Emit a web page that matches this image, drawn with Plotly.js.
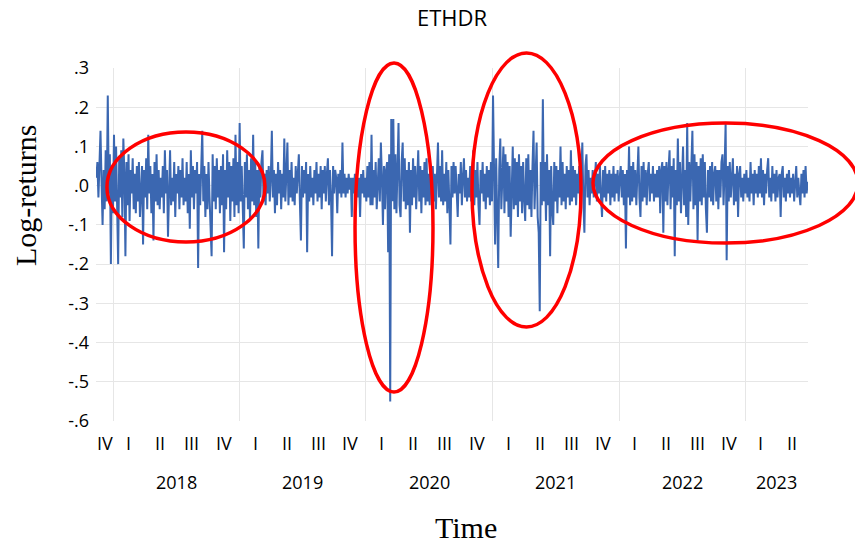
<!DOCTYPE html>
<html>
<head>
<meta charset="utf-8">
<script src="https://cdn.plot.ly/plotly-3.0.1.min.js"></script>
<style>html,body{margin:0;padding:0;background:#fff;}#chart{width:855px;height:548px;}</style>
</head>
<body>
<div id="chart"></div>
<script>
const START_DATE = '2017-11-13';
const STEP_DAYS = 3;
const LOG_RETURNS = [
 .02,.06,-.03,.05,.14,.01,-.10,.04,-.06,.09,-.04,.23,-.02,.08,-.20,.05,-.07,.13,-.04,.10,
 -.05,-.20,.07,-.03,.09,-.08,.12,.03,-.18,.06,-.05,.08,-.09,.04,-.02,.07,-.06,.03,-.07,.05,
 -.04,.06,-.08,.02,.05,-.15,.04,-.03,.07,-.06,.13,-.02,.05,-.07,.03,-.14,.06,-.04,.08,-.05,
 .04,-.06,.02,-.03,.05,-.07,.09,-.02,.04,-.13,.03,.09,-.05,.02,-.04,.06,-.08,.03,-.02,.05,
 -.06,.04,-.03,.07,-.05,.02,-.04,.06,-.07,.03,-.11,.09,-.03,.05,-.06,.04,-.02,.06,-.21,.03,
 -.05,.07,.14,-.04,.05,-.08,.03,-.06,.06,-.03,-.12,-.18,.08,-.04,.05,-.06,.07,-.03,.04,-.07,
 .05,-.05,.08,-.17,.04,-.06,.09,-.03,.06,-.09,.05,-.04,.07,-.08,.13,-.05,.06,-.07,.16,-.04,
 .05,-.08,-.16,.06,-.03,.08,-.06,.04,-.09,.07,-.04,.13,-.05,.06,-.08,.04,-.16,.05,-.03,.06,
 .09,-.04,.03,-.05,.04,-.02,.05,-.04,.02,.14,-.03,.04,-.07,.03,-.05,.06,-.02,.04,-.06,.03,
 -.03,.12,-.04,.03,.11,-.05,.04,-.03,.06,-.04,.02,-.05,.05,-.02,.03,.08,-.04,-.14,.05,-.03,
 .04,-.02,.06,-.17,.03,-.04,.05,-.03,.02,-.05,.04,-.02,.06,-.04,.03,-.03,.05,-.06,.04,-.02,
 .05,-.04,.03,.07,-.05,.04,-.03,-.18,.05,-.02,.04,.02,-.07,.03,-.02,.04,-.03,.11,-.02,.03,
 -.03,.02,-.02,.03,-.01,.02,-.08,.02,-.02,.03,-.02,.01,-.03,.02,-.08,.03,-.02,.04,-.03,.02,
 -.04,.05,-.03,.06,-.05,.13,-.05,.04,-.03,.06,-.06,.03,.07,-.04,.11,.02,-.10,.05,-.06,.04,
 .06,-.17,.08,-.55,.17,-.04,.17,-.06,.08,-.07,.05,.16,-.05,-.08,.06,.11,-.04,.07,-.06,.04,
 -.05,.06,-.12,.04,-.05,.07,-.03,.05,-.06,.03,.09,-.04,.05,-.07,.04,-.03,.06,-.05,.07,-.04,
 .03,-.05,.04,-.02,.05,-.04,.03,-.06,.04,.11,-.03,.05,-.04,.09,-.05,.03,-.04,.06,-.07,.04,
 -.05,-.15,.05,-.03,.06,-.02,.05,-.04,-.08,.03,-.02,.06,-.05,.02,.07,-.03,.04,-.04,.02,-.03,
 .05,-.04,.03,.09,-.05,.04,-.03,.06,-.05,-.10,.04,-.02,.06,-.04,.03,-.06,.05,-.03,.04,-.05,
 .06,-.04,.23,.03,-.15,.07,-.05,-.21,.04,.12,-.06,.05,.10,-.07,.08,-.04,.06,-.08,.05,-.13,
 .04,.10,-.06,.07,-.05,.06,-.08,.08,-.04,.05,-.07,.06,-.03,-.09,.07,-.05,.08,-.06,.04,-.08,
 .05,.14,-.06,.05,.11,-.08,-.12,-.32,.06,-.05,.22,-.04,.06,-.09,.08,-.05,.04,-.18,.05,-.06,
 -.10,.06,-.04,.05,-.07,.04,-.03,.10,-.05,.06,-.04,.03,-.06,.05,-.03,.04,-.05,.09,-.04,.05,
 -.03,.04,-.05,.03,-.02,.05,-.06,.03,.11,-.04,-.12,.05,.08,-.03,.04,-.05,.02,-.02,.04,-.03,
 .03,.06,-.04,.03,-.02,.05,-.03,-.08,.04,-.03,.05,-.04,.03,-.02,.04,-.05,.03,-.03,.05,-.04,
 .03,-.02,.04,-.04,.02,.05,-.03,.04,-.05,.03,-.16,.04,-.03,.10,-.05,.05,-.04,.06,-.03,.04,
 -.05,.04,.10,-.03,-.08,.05,-.04,.06,-.03,.04,-.05,.03,.06,-.04,.03,-.02,.05,-.04,.03,-.03,
 .04,-.03,.05,-.07,.04,.06,-.12,.05,-.04,.06,-.05,.04,.09,-.06,.05,-.03,.07,-.18,.04,-.05,
 .12,-.04,.06,-.07,.05,.10,-.05,.04,-.08,.16,-.10,.06,-.04,.05,.14,-.06,.08,-.05,.06,-.14,
 .05,-.04,.07,-.05,.08,-.03,.06,-.06,-.12,.04,-.03,.05,-.04,.06,-.05,.03,.05,-.04,.04,-.06,
 .04,-.03,.06,.08,-.05,.04,.16,-.19,.05,-.04,.06,-.03,.04,.07,-.05,.03,-.04,.05,-.08,.03,
 .05,-.03,.02,-.04,.03,-.02,.04,-.03,.02,-.04,.06,-.02,.03,-.05,.04,-.02,.03,-.03,.05,-.02,
 .07,-.03,.04,-.05,.03,-.02,.04,.07,-.03,.02,-.04,.05,-.02,.03,-.04,.04,-.03,.02,.03,-.08,
 .03,.05,-.03,.02,-.04,.03,-.02,.04,-.03,.02,-.02,.03,-.04,.02,.05,-.03,.02,-.02,-.05,.03,
 -.02,.04,-.03,.05,-.02,.01
];
const QUARTER_LABELS = ['I','II','III','IV'];
const YEARS = [2018, 2019, 2020, 2021, 2022, 2023];
const Y_TICKS = [0.3, 0.2, 0.1, 0.0, -0.1, -0.2, -0.3, -0.4, -0.5, -0.6];
const Y_TICK_TEXT = ['.3', '.2', '.1', '.0', '-.1', '-.2', '-.3', '-.4', '-.5', '-.6'];
const X_RANGE = ['2017-11-12', '2023-07-01'];

const DAY = 86400000;
const t0 = Date.parse(START_DATE + 'T00:00:00Z');
const dates = LOG_RETURNS.map((_, i) => new Date(t0 + i * STEP_DAYS * DAY).toISOString().slice(0, 10));

const rMin = Date.parse(X_RANGE[0] + 'T00:00:00Z');
const rMax = Date.parse(X_RANGE[1] + 'T00:00:00Z');
const clipMid = (a, b) => {
  const lo = Math.max(a, rMin), hi = Math.min(b, rMax);
  return new Date((lo + hi) / 2).toISOString().slice(0, 19).replace('T', ' ');
};

const annotations = [];
const labelFont = {family: 'Open Sans, Liberation Sans, sans-serif', size: 18, color: '#000'};
// quarter labels: 2017 Q4 to 2023 Q2
for (let y = 2017; y <= 2023; y++) {
  for (let q = 0; q < 4; q++) {
    const a = Date.UTC(y, q * 3, 1), b = Date.UTC(y, q * 3 + 3, 1);
    if (b <= rMin || a >= rMax) continue;
    annotations.push({x: clipMid(a, b), xref: 'x', y: -0.062, yref: 'paper', text: QUARTER_LABELS[q],
      showarrow: false, xanchor: 'center', yanchor: 'middle', font: labelFont});
  }
}
YEARS.forEach(y => {
  annotations.push({x: clipMid(Date.UTC(y, 0, 1), Date.UTC(y + 1, 0, 1)), xref: 'x', y: -0.173, yref: 'paper',
    text: String(y), showarrow: false, xanchor: 'center', yanchor: 'middle', font: labelFont});
});
annotations.push({x: -0.0997, xref: 'paper', y: 0.64, yref: 'paper', text: 'Log-returns', textangle: -90,
  showarrow: false, xanchor: 'center', yanchor: 'middle', font: {family: 'Liberation Serif, Times New Roman, serif', size: 30, color: '#000'}});
annotations.push({x: 0.5197, xref: 'paper', y: -0.303, yref: 'paper', text: 'Time',
  showarrow: false, xanchor: 'center', yanchor: 'middle', font: {family: 'Liberation Serif, Times New Roman, serif', size: 30, color: '#000'}});

const ell = (x0, x1, y0, y1) => ({type: 'circle', xref: 'paper', yref: 'paper', x0, x1, y0, y1,
  line: {color: 'rgb(255,0,0)', width: 3.5}, fillcolor: 'rgba(0,0,0,0)', layer: 'above'});

const shapes = [
  {type: 'line', xref: 'paper', yref: 'y', x0: 0, x1: 1, y0: 0.3, y1: 0.3, line: {color: '#fff', width: 2}, layer: 'between'},
  ell(0.0154, 0.2374, 0.507, 0.8187),
  ell(0.3638, 0.4733, 0.0822, 1.0142),
  ell(0.5281, 0.6812, 0.2663, 1.0425),
  ell(0.698, 1.0702, 0.504, 0.844)
];

const trace = {x: dates, y: LOG_RETURNS, type: 'scatter', mode: 'lines',
  line: {color: '#3b67b1', width: 2}, hoverinfo: 'skip'};

const layout = {
  width: 855, height: 548,
  margin: {l: 96, r: 47, t: 68, b: 127, pad: 0},
  paper_bgcolor: '#fff', plot_bgcolor: '#fff',
  showlegend: false,
  title: {text: 'ETHDR', font: {family: 'Open Sans, Liberation Sans, sans-serif', size: 22, color: '#000'},
    x: 0.5, xref: 'paper', xanchor: 'center', y: 1 - 18.5 / 548, yref: 'container', yanchor: 'middle'},
  xaxis: {type: 'date', range: X_RANGE, tickmode: 'array',
    tickvals: YEARS.map(y => y + '-01-01'), ticktext: YEARS.map(() => ''),
    showgrid: true, gridcolor: '#e6e6e6', gridwidth: 1, zeroline: false, showline: false, ticks: ''},
  yaxis: {range: [-0.6, 0.3], tickmode: 'array', tickvals: Y_TICKS, ticktext: Y_TICK_TEXT,
    showgrid: true, gridcolor: '#e6e6e6', gridwidth: 1, zeroline: false, showline: false, ticks: '',
    ticklabelstandoff: 6, tickfont: labelFont},
  annotations, shapes
};

Plotly.newPlot('chart', [trace], layout, {displayModeBar: false, staticPlot: true});
</script>
</body>
</html>
